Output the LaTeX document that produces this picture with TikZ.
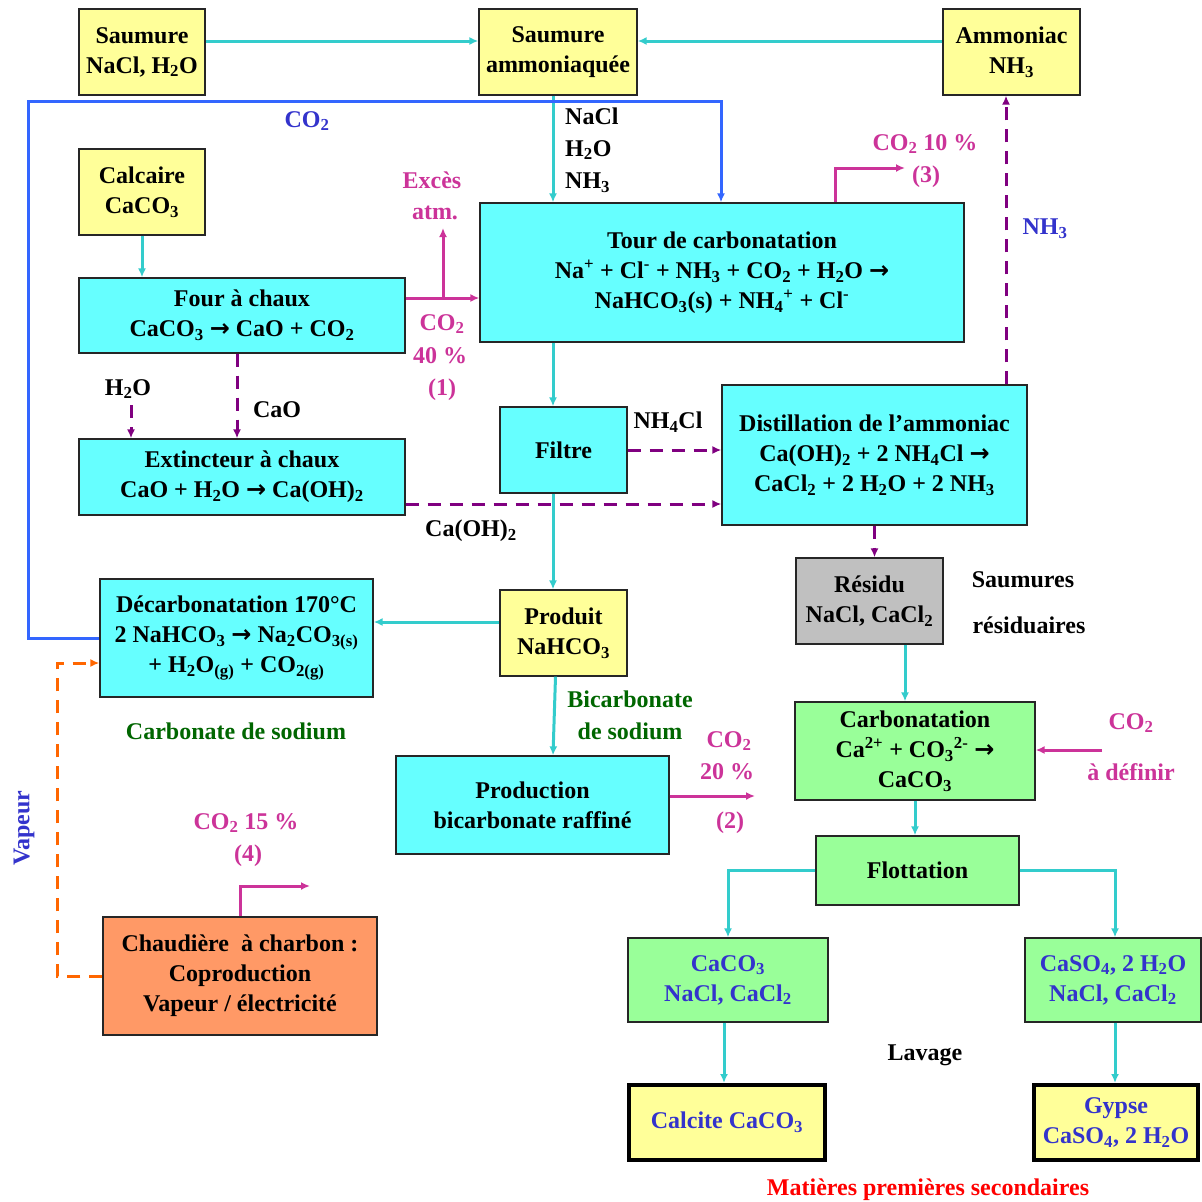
\documentclass[tikz,border=0pt]{standalone}
\usepackage{fontspec}
\setmainfont{Liberation Serif}
\newfontfamily\arrfont{DejaVu Sans}
\usetikzlibrary{arrows.meta}
\definecolor{cyanf}{HTML}{66FFFF}
\definecolor{yel}{HTML}{FFFF99}
\definecolor{grn}{HTML}{99FF99}
\definecolor{gry}{HTML}{C0C0C0}
\definecolor{ora}{HTML}{FF9966}
\definecolor{cyl}{HTML}{33CCCC}
\definecolor{mag}{HTML}{CC3399}
\definecolor{pur}{HTML}{800080}
\definecolor{blu}{HTML}{3366FF}
\definecolor{btxt}{HTML}{3333CC}
\definecolor{gtxt}{HTML}{006600}
\definecolor{orl}{HTML}{FF6600}
\newcommand{\ssb}[1]{\textsubscript{#1}}
\newcommand{\ssp}[1]{\textsuperscript{#1}}
\newcommand{\rar}{{\arrfont\bfseries →}}
\tikzset{
  box/.style={draw=black!85, line width=1.3pt, inner sep=0pt, align=center,
    font=\fontsize{24}{30}\selectfont\bfseries},
  thickbox/.style={box, line width=4pt, draw=black},
  lbl/.style={inner sep=0pt, align=center, font=\fontsize{24}{30}\selectfont\bfseries},
  tip/.style={-{Latex[length=9pt,width=8pt]}},
  cl/.style={draw=cyl, line width=3pt, tip},
  ml/.style={draw=mag, line width=3pt, tip},
  bl/.style={draw=blu, line width=3pt, tip},
  pl/.style={draw=pur, line width=3pt, dash pattern=on 13pt off 9pt, tip},
  ol/.style={draw=orl, line width=3pt, dash pattern=on 13pt off 9pt, tip},
}
\begin{document}
\begin{tikzpicture}[x=1pt,y=-1pt]
\useasboundingbox[fill=white] (0,0) rectangle (1202,1202);
% boxes
\node[box, fill=yel, minimum width=126pt, minimum height=86pt] (sau) at (142,52) {Saumure\\NaCl, H\ssb{2}O};
\node[box, fill=yel, minimum width=158pt, minimum height=86pt] (sam) at (558,52) {Saumure\\ammoniaquée};
\node[box, fill=yel, minimum width=137pt, minimum height=86pt] (amm) at (1011.5,52) {Ammoniac\\NH\ssb{3}};
\node[box, fill=yel, minimum width=126pt, minimum height=86pt] (cal) at (142,192) {Calcaire\\CaCO\ssb{3}};
\node[box, fill=cyanf, minimum width=326pt, minimum height=75pt] (four) at (242,315.5) {Four à chaux\\CaCO\ssb{3} \rar{} CaO + CO\ssb{2}};
\node[box, fill=cyanf, minimum width=484pt, minimum height=139pt] (tour) at (722,272.5) {Tour de carbonatation\\Na\ssp{+} + Cl\ssp{-} + NH\ssb{3} + CO\ssb{2} + H\ssb{2}O \rar\\NaHCO\ssb{3}(s) + NH\ssb{4}\ssp{+} + Cl\ssp{-}};
\node[box, fill=cyanf, minimum width=326pt, minimum height=76pt] (ext) at (242,477) {Extincteur à chaux\\CaO + H\ssb{2}O \rar{} Ca(OH)\ssb{2}};
\node[box, fill=cyanf, minimum width=127pt, minimum height=86pt] (fil) at (563.5,450) {Filtre};
\node[box, fill=cyanf, minimum width=305pt, minimum height=140pt] (dist) at (874.5,455) {Distillation de l’ammoniac\\Ca(OH)\ssb{2} + 2 NH\ssb{4}Cl \rar\\CaCl\ssb{2} + 2 H\ssb{2}O + 2 NH\ssb{3}};
\node[box, fill=cyanf, minimum width=273pt, minimum height=118pt] (dec) at (236.5,638) {Décarbonatation 170°C\\2 NaHCO\ssb{3} \rar{} Na\ssb{2}CO\ssb{3(s)}\\+ H\ssb{2}O\ssb{(g)} + CO\ssb{2(g)}};
\node[box, fill=yel, minimum width=127pt, minimum height=86pt] (prod) at (563.5,633) {Produit\\NaHCO\ssb{3}};
\node[box, fill=cyanf, minimum width=273pt, minimum height=98pt] (raf) at (532.5,805) {Production\\bicarbonate raffiné};
\node[box, fill=gry, minimum width=147pt, minimum height=86pt] (res) at (869.5,601) {Résidu\\NaCl, CaCl\ssb{2}};
\node[box, fill=grn, minimum width=240pt, minimum height=98pt] (carb) at (915,751) {Carbonatation\\Ca\ssp{2+} + CO\ssb{3}\ssp{2-} \rar\\CaCO\ssb{3}};
\node[box, fill=grn, minimum width=203pt, minimum height=69pt] (flot) at (917.5,870.5) {Flottation};
\node[box, fill=grn, text=btxt, minimum width=200pt, minimum height=84pt] (gl) at (728,980) {CaCO\ssb{3}\\NaCl, CaCl\ssb{2}};
\node[box, fill=grn, text=btxt, minimum width=176pt, minimum height=84pt] (gr) at (1113,980) {CaSO\ssb{4}, 2 H\ssb{2}O\\NaCl, CaCl\ssb{2}};
\node[thickbox, fill=yel, text=btxt, minimum width=196pt, minimum height=75pt] (calc) at (727,1122.5) {Calcite CaCO\ssb{3}};
\node[thickbox, fill=yel, text=btxt, minimum width=164pt, minimum height=75pt] (gyp) at (1116,1122.5) {Gypse\\CaSO\ssb{4}, 2 H\ssb{2}O};
\node[box, fill=ora, minimum width=274pt, minimum height=118pt] (chau) at (240,976) {Chaudière~ à charbon :\\Coproduction\\Vapeur / électricité};
% helper coordinates
\coordinate (vx) at (553,0);
\coordinate (exc) at (443,228);
\coordinate (brk) at (443,298);
\coordinate (h2o) at (131,405);
\coordinate (vx3) at (835,0);
\coordinate (t3) at (905,168);
\coordinate (vx4) at (1006,0);
\coordinate (t2) at (755,796);
\coordinate (vx5) at (905,0);
\coordinate (t5) at (1102,750);
\coordinate (t4) at (310,886);
\coordinate (vp) at (57,663);
\coordinate (bl1) at (28,101);
% connectors
\draw[cl] ([yshift=11pt]sau.east) -- ([yshift=11pt]sam.west);
\draw[cl] ([yshift=11pt]amm.west) -- ([yshift=11pt]sam.east);
\draw[cl] (vx |- sam.south) -- (vx |- tour.north);
\draw[bl] (dec.west) -| (bl1) -| ([xshift=-1pt]tour.north);
\draw[cl] (cal.south) -- (cal.south |- four.north);
\draw[ml] ([yshift=17.5pt]four.east) -- ([yshift=17.5pt]four.east -| tour.west);
\draw[ml] (brk) -- (exc);
\draw[pl] ([xshift=-5pt]four.south) -- ([xshift=-5pt]four.south |- ext.north);
\draw[pl] (h2o) -- (h2o |- ext.north);
\draw[cl] (vx |- tour.south) -- (vx |- fil.north);
\draw[ml] (vx3 |- tour.north) |- (t3);
\draw[pl] (vx4 |- dist.north) -- (vx4 |- amm.south);
\draw[pl] (fil.east) -- (fil.east -| dist.west);
\draw[pl] ([yshift=-27pt]ext.east) -- ([yshift=-27pt]ext.east -| dist.west);
\draw[cl] (vx |- fil.south) -- (vx |- prod.north);
\draw[cl] ([yshift=11pt]prod.west) -- ([yshift=11pt]prod.west -| dec.east);
\draw[cl] ([xshift=-8pt]prod.south) -- (vx |- raf.north);
\draw[ml] ([yshift=9pt]raf.east) -- (t2);
\draw[pl] (dist.south) -- (dist.south |- res.north);
\draw[cl] (vx5 |- res.south) -- (vx5 |- carb.north);
\draw[ml] (t5) -- (t5 -| carb.east);
\draw[cl] (carb.south) -- (carb.south |- flot.north);
\draw[cl] (flot.west) -| (gl.north);
\draw[cl] (flot.east) -| ([xshift=2pt]gr.north);
\draw[cl] ([xshift=-4pt]gl.south) -- ([xshift=-4pt]gl.south |- calc.north);
\draw[cl] ([xshift=2pt]gr.south) -- ([xshift=2pt]gr.south |- gyp.north);
\draw[ml] (chau.north) |- (t4);
\draw[ol] (chau.west) -| (vp) -- (vp -| dec.west);
% labels
\node[lbl, anchor=west] (l1) at (565,116) {NaCl};
\node[lbl, anchor=west] (l2) at (565,150) {H\ssb{2}O};
\node[lbl, anchor=west] (l3) at (565,183) {NH\ssb{3}};
\node[lbl, text=btxt] (l4) at (307,121) {CO\ssb{2}};
\node[lbl, text=mag] (l5) at (432,180) {Excès};
\node[lbl, text=mag] (l6) at (435,213) {atm.};
\node[lbl, text=mag] (l7) at (442,324) {CO\ssb{2}};
\node[lbl, text=mag] (l8) at (440,356) {40 \%};
\node[lbl, text=mag] (l9) at (442,390) {(1)};
\node[lbl, text=mag] (l10) at (925,144) {CO\ssb{2} 10 \%};
\node[lbl, text=mag] (l11) at (926,177) {(3)};
\node[lbl, text=btxt] (l12) at (1045,229) {NH\ssb{3}};
\node[lbl] (l13) at (128,389) {H\ssb{2}O};
\node[lbl] (l14) at (277,410) {CaO};
\node[lbl] (l15) at (668,422) {NH\ssb{4}Cl};
\node[lbl] (l16) at (471,531) {Ca(OH)\ssb{2}};
\node[lbl] (l17) at (1023,580) {Saumures};
\node[lbl] (l18) at (1029,625) {résiduaires};
\node[lbl, text=gtxt] (l19) at (236,731) {Carbonate de sodium};
\node[lbl, text=gtxt] (l20) at (630,699) {Bicarbonate};
\node[lbl, text=gtxt] (l21) at (630,731) {de sodium};
\node[lbl, text=mag] (l22) at (729,741) {CO\ssb{2}};
\node[lbl, text=mag] (l23) at (727,772) {20 \%};
\node[lbl, text=mag] (l24) at (730,823) {(2)};
\node[lbl, text=mag] (l25) at (1131,723) {CO\ssb{2}};
\node[lbl, text=mag] (l26) at (1131,772) {à définir};
\node[lbl, text=mag] (l27) at (246,823) {CO\ssb{2} 15 \%};
\node[lbl, text=mag] (l28) at (248,856) {(4)};
\node[lbl, text=btxt, rotate=90] (l29) at (24,828) {Vapeur};
\node[lbl] (l30) at (925,1055) {Lavage};
\node[lbl, text=red] (l31) at (928,1190) {Matières premières secondaires};
\end{tikzpicture}
\end{document}
